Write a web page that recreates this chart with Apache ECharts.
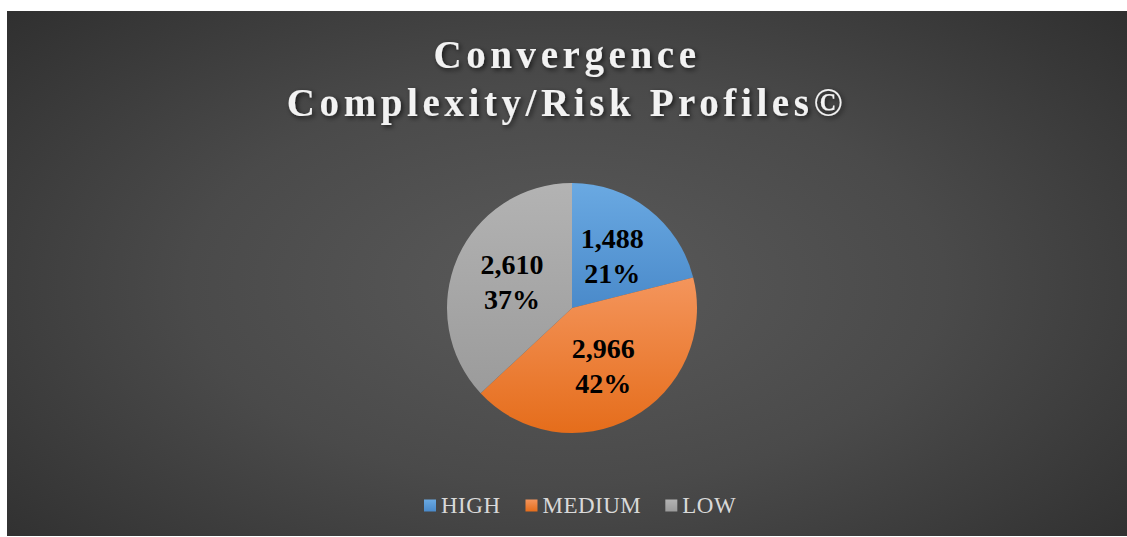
<!DOCTYPE html>
<html>
<head>
<meta charset="utf-8">
<script src="https://cdn.jsdelivr.net/npm/echarts@6/dist/echarts.min.js"></script>
<style>
  html, body { margin: 0; padding: 0; background: #ffffff; }
  #chart {
    position: absolute; left: 7px; top: 11px; width: 1120px; height: 525px;
    background: radial-gradient(ellipse 75% 85% at 50% 52%, #5a5a5a 0%, #4a4a4a 45%, #2a2a2a 100%);
  }
</style>
</head>
<body>
<div id="chart"></div>
<script>
const titleLines = ['Convergence', 'Complexity/Risk Profiles©'];
const categories = ['HIGH', 'MEDIUM', 'LOW'];
const values = [1488, 2966, 2610];
const lightColors = ['#6aa9e2', '#f4955c', '#b3b3b3'];
const darkColors = ['#4a8aca', '#e56d1b', '#9b9b9b'];

const dom = document.getElementById('chart');
const chart = echarts.init(dom, null, { renderer: 'svg' });

const data = categories.map((name, i) => ({
  name: name,
  value: values[i],
  itemStyle: {
    color: new echarts.graphic.LinearGradient(0, 0, 0, 1, [
      { offset: 0, color: lightColors[i] },
      { offset: 1, color: darkColors[i] }
    ])
  }
}));

const option = {
  animation: false,
  backgroundColor: 'transparent',
  title: {
    text: titleLines.join('\n'),
    left: 'center',
    top: 14,
    textStyle: {
      fontFamily: 'Liberation Serif',
      fontWeight: 'bold',
      fontSize: 39,
      lineHeight: 48,
      color: '#f2f2f2',
      textShadowColor: 'rgba(0,0,0,0.65)',
      textShadowBlur: 5,
      textShadowOffsetX: 2,
      textShadowOffsetY: 2
    }
  },
  legend: {
    data: categories,
    top: 478,
    left: 412,
    itemWidth: 12,
    itemHeight: 12,
    itemGap: 27,
    icon: 'rect',
    textStyle: {
      fontFamily: 'Liberation Serif',
      fontSize: 23,
      color: '#d9d9d9'
    }
  },
  series: [{
    type: 'pie',
    center: [565, 297],
    radius: 125,
    startAngle: 90,
    clockwise: true,
    data: data,
    label: {
      show: true,
      position: 'inside',
      fontFamily: 'Liberation Serif',
      fontWeight: 'bold',
      fontSize: 28,
      lineHeight: 35,
      color: '#000000',
      formatter: function (p) {
        return p.value.toLocaleString('en-US') + '\n' + Math.round(p.percent) + '%';
      }
    },
    labelLine: { show: false },
    emphasis: { disabled: true }
  }]
};

chart.setOption(option);

function applySpacing() {
  dom.querySelectorAll('text').forEach(function (t) {
    const s = t.textContent;
    if (titleLines.indexOf(s) >= 0) {
      t.setAttribute('letter-spacing', '4.6px');
    } else if (categories.indexOf(s) >= 0) {
      t.setAttribute('letter-spacing', '0.5px');
    }
  });
}
applySpacing();
chart.on('finished', applySpacing);
</script>
</body>
</html>
